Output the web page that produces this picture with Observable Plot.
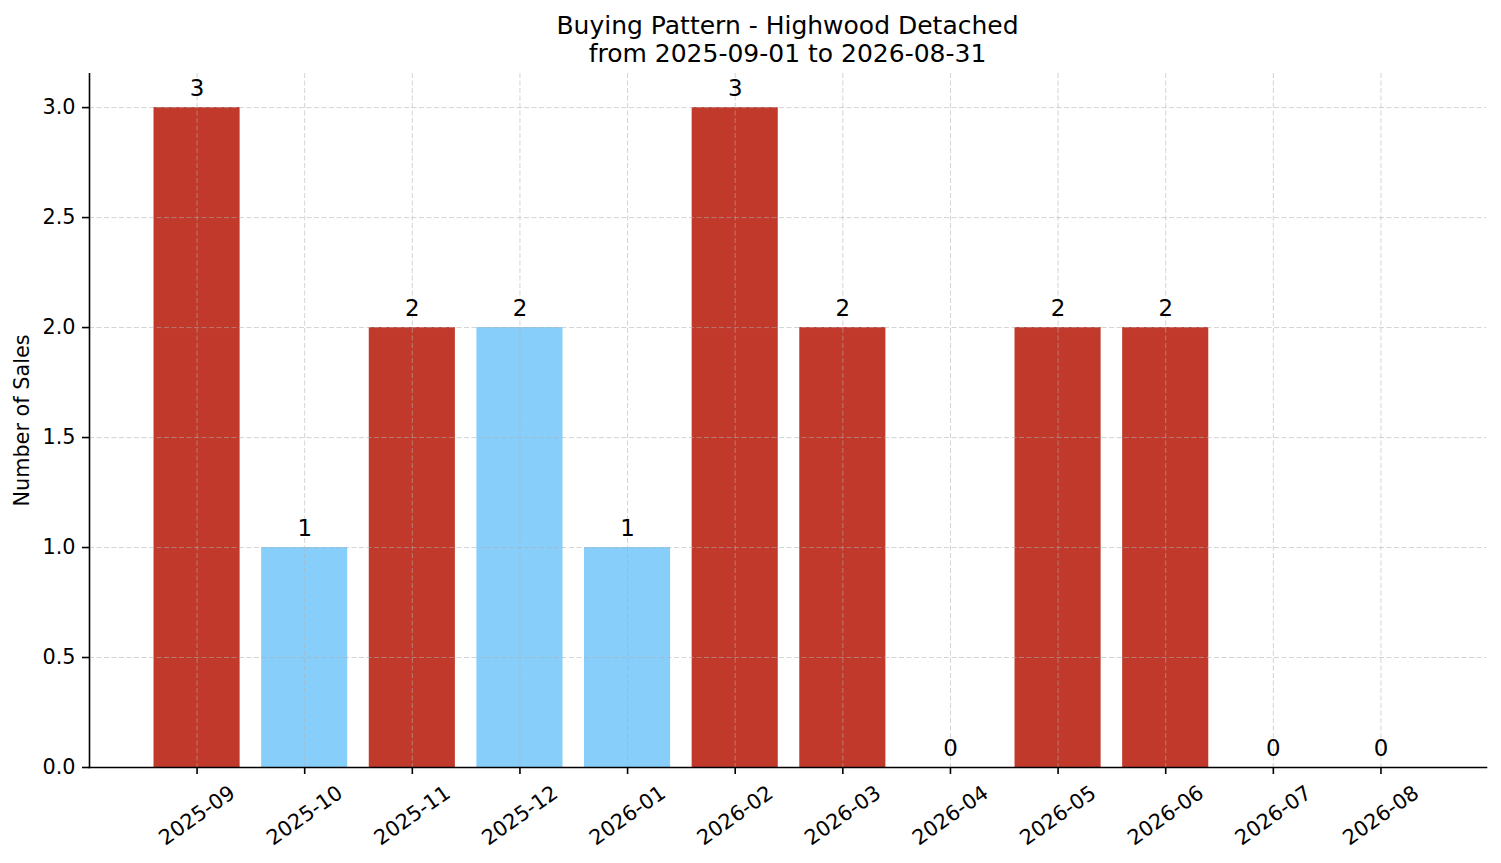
<!DOCTYPE html>
<html>
<head>
<meta charset="utf-8">
<script src="https://cdn.jsdelivr.net/npm/d3@7"></script>
<script src="https://cdn.jsdelivr.net/npm/@observablehq/plot@0.6"></script>
<style>
  html, body { margin: 0; padding: 0; background: #fff; overflow: hidden; }
  #title {
    font-family: "DejaVu Sans", sans-serif;
    font-size: 25px;
    line-height: 28px;
    height: 73px;
    box-sizing: border-box;
    padding-top: 12px;
    padding-left: 89px;
    padding-right: 15px;
    text-align: center;
    color: #000;
  }
  #chart svg { display: block; }
</style>
</head>
<body>
<div id="title">Buying Pattern - Highwood Detached<br>from 2025-09-01 to 2026-08-31</div>
<div id="chart"></div>
<script>
const months = ["2025-09","2025-10","2025-11","2025-12","2026-01","2026-02","2026-03","2026-04","2026-05","2026-06","2026-07","2026-08"];
const sales = [3, 1, 2, 2, 1, 3, 2, 0, 2, 2, 0, 0];
const group = ["hot","cool","hot","cool","cool","hot","hot","hot","hot","hot","hot","hot"];
const yTicks = [0, 0.5, 1.0, 1.5, 2.0, 2.5, 3.0];
const yLabel = "Number of Sales";

const data = months.map((m, i) => ({month: m, count: sales[i], group: group[i]}));

const chart = Plot.plot({
  width: 1501,
  height: 790,
  marginTop: 0,
  marginLeft: 89,
  marginRight: 15,
  marginBottom: 96,
  style: {fontFamily: "DejaVu Sans, sans-serif", fontSize: "20.8px", color: "#000", background: "#fff"},
  x: {type: "band", domain: months, paddingInner: 0.2, paddingOuter: 0.59, align: 0.508, round: false, label: null},
  y: {domain: [0, 3.155], label: null},
  color: {domain: ["hot", "cool"], range: ["#c0392b", "#87cefa"]},
  marks: [
    Plot.barY(data, {x: "month", y: "count", fill: "group"}),
    Plot.gridY(yTicks, {stroke: "#b0b0b0", strokeOpacity: 0.55, strokeWidth: 1, strokeDasharray: "5,2.5"}),
    Plot.gridX(months, {stroke: "#b0b0b0", strokeOpacity: 0.55, strokeWidth: 1, strokeDasharray: "5,2.5"}),
    Plot.axisY({ticks: yTicks, tickFormat: d3.format(".1f"), tickSize: 7, tickPadding: 7, strokeWidth: 1.6, fontSize: 20.8, label: null}),
    Plot.axisX({tickSize: 7, tickFormat: () => "", strokeWidth: 1.6, label: null}),
    Plot.frame({anchor: "left", stroke: "#000", strokeWidth: 1.6}),
    Plot.frame({anchor: "bottom", stroke: "#000", strokeWidth: 1.6}),
    Plot.text(data, {x: "month", y: "count", text: d => String(d.count), lineAnchor: "bottom", dy: -11.5, fontSize: 22.9, fill: "#000"}),
    Plot.text(months, {x: d => d, text: d => d, frameAnchor: "bottom", dy: 48, rotate: -35, textAnchor: "middle", lineAnchor: "middle", fontSize: 20.8, fill: "#000"}),
    Plot.text([yLabel], {text: d => d, frameAnchor: "left", dx: -67, rotate: -90, textAnchor: "middle", lineAnchor: "middle", fontSize: 20.8, fill: "#000"})
  ]
});
document.getElementById("chart").appendChild(chart);
</script>
</body>
</html>
